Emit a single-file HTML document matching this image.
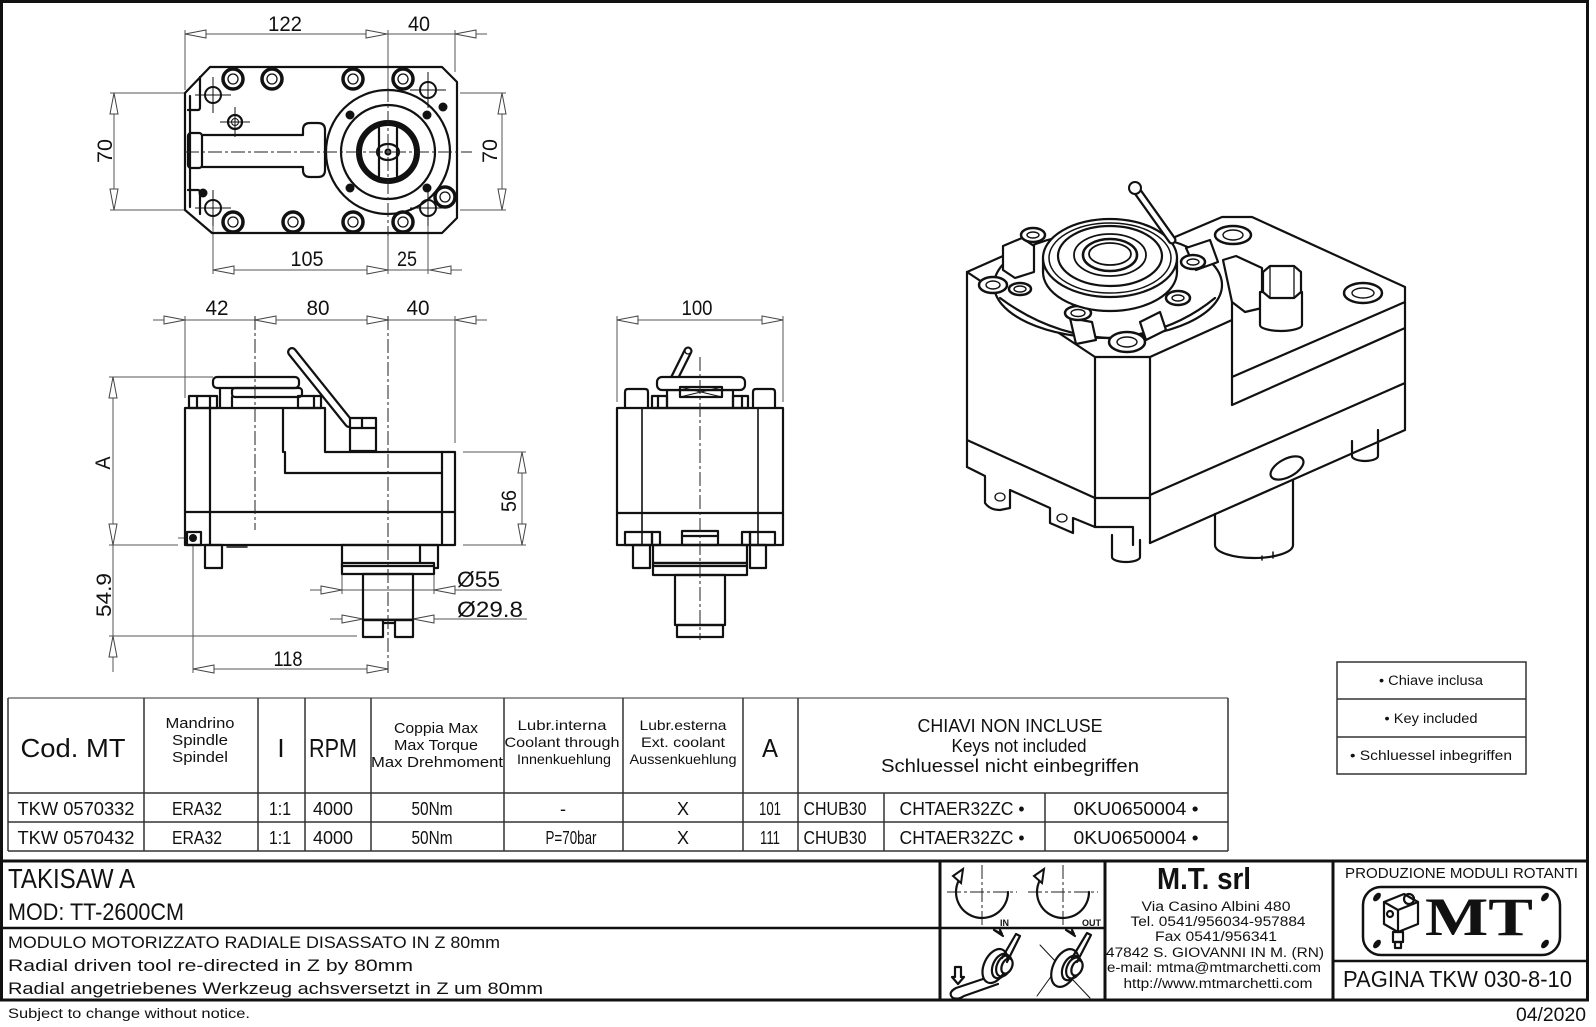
<!DOCTYPE html>
<html><head><meta charset="utf-8"><style>
html,body{margin:0;padding:0;background:#fff;}
svg{display:block;}
text{font-family:"Liberation Sans",sans-serif;fill:#111;}
.o{fill:none;stroke:#111;stroke-width:2.2;stroke-linejoin:round;stroke-linecap:round}
.ow{fill:#fff;stroke:#111;stroke-width:2.2;stroke-linejoin:round}
.d{stroke:#555;stroke-width:1;fill:none}
.ar{fill:#fff;stroke:#444;stroke-width:1}
.c{stroke:#222;stroke-width:1;stroke-dasharray:14 3 3 3;fill:none}
.tl{stroke:#333;stroke-width:1.5;fill:none}
.tk{stroke:#111;stroke-width:3;fill:none}
</style></head><body>
<svg width="1596" height="1027" viewBox="0 0 1596 1027" xmlns="http://www.w3.org/2000/svg">
<rect width="1596" height="1027" fill="#fff"/>
<!-- frame -->
<rect x="1.5" y="1.5" width="1586" height="998.5" fill="none" stroke="#111" stroke-width="3"/>

<!-- ================= TOP VIEW ================= -->
<g class="d">
<line x1="185" y1="34" x2="487" y2="34"/>
<line x1="185" y1="30" x2="185" y2="90"/>
<line x1="455" y1="30" x2="455" y2="72"/>
<line x1="388" y1="30" x2="388" y2="88"/>
<line x1="213" y1="270" x2="462" y2="270"/>
<line x1="213" y1="222" x2="213" y2="274"/>
<line x1="428" y1="222" x2="428" y2="274"/>
<line x1="388" y1="236" x2="388" y2="274"/>
<line x1="114" y1="93" x2="114" y2="210"/>
<line x1="110" y1="93" x2="185" y2="93"/>
<line x1="110" y1="210" x2="185" y2="210"/>
<line x1="502" y1="93" x2="502" y2="210"/>
<line x1="460" y1="93" x2="506" y2="93"/>
<line x1="460" y1="210" x2="506" y2="210"/>
</g>
<g class="ar">
<polygon points="185,34 206,30 206,38"/>
<polygon points="387,34 366,30 366,38"/>
<polygon points="455,34 476,30 476,38"/>
<polygon points="213,270 234,266 234,274"/>
<polygon points="388,270 367,266 367,274"/>
<polygon points="430,270 451,266 451,274"/>
<polygon points="114,93 110,114 118,114"/>
<polygon points="114,210 110,189 118,189"/>
<polygon points="502,93 498,114 506,114"/>
<polygon points="502,210 498,189 506,189"/>
</g>
<text x="285" y="31" font-size="21" text-anchor="middle" textLength="34" lengthAdjust="spacingAndGlyphs">122</text>
<text x="419" y="31" font-size="21" text-anchor="middle" textLength="22" lengthAdjust="spacingAndGlyphs">40</text>
<text x="307" y="266" font-size="21" text-anchor="middle" textLength="33" lengthAdjust="spacingAndGlyphs">105</text>
<text x="407" y="266" font-size="21" text-anchor="middle" textLength="20" lengthAdjust="spacingAndGlyphs">25</text>
<text transform="translate(112,151) rotate(-90)" font-size="21" text-anchor="middle" textLength="24" lengthAdjust="spacingAndGlyphs">70</text>
<text transform="translate(497,151) rotate(-90)" font-size="21" text-anchor="middle" textLength="24" lengthAdjust="spacingAndGlyphs">70</text>

<polygon class="o" points="210,67 442,67 457,82 457,218 442,233 212,233 185,210 185,93"/>
<g class="o" stroke-width="1.6">
<line x1="190" y1="96" x2="190" y2="207"/>
<path d="M188,110 H198 Q200,110 200,107 V77"/>
<path d="M188,190 H198 Q200,190 200,193 V214"/>
</g>
<g class="o" stroke-width="2">
<rect x="188" y="133" width="14" height="35" rx="3"/>
<path d="M202,135 H303 V130 Q303,123 310,123 H318 Q325,123 325,130 V170 Q325,177 318,177 H310 Q303,177 303,170 V167 H202"/>
</g>
<!-- flange -->
<circle class="o" cx="388" cy="152" r="62"/>
<circle class="o" cx="388" cy="152" r="47" stroke-width="2"/>
<g fill="#111">
<circle cx="350" cy="115" r="4.5"/><circle cx="427" cy="115" r="4.5"/>
<circle cx="350" cy="188" r="4.5"/><circle cx="427" cy="188" r="4.5"/>
<circle cx="443" cy="107" r="4.5"/><circle cx="203" cy="193" r="4.5"/>
</g>
<circle cx="388" cy="152" r="29" fill="none" stroke="#111" stroke-width="6"/>
<g class="o" stroke-width="1.6">
<line x1="379" y1="128" x2="379" y2="176"/>
<line x1="397" y1="128" x2="397" y2="176"/>
<ellipse cx="388" cy="152" rx="11" ry="8"/>
<circle cx="388" cy="152" r="2.5"/>
</g>
<!-- bolts -->
<g fill="none" stroke="#111">
<g stroke-width="3.5">
<circle cx="233" cy="79" r="10"/><circle cx="272" cy="79" r="10"/><circle cx="353" cy="79" r="10"/><circle cx="403" cy="79" r="10"/>
<circle cx="233" cy="222" r="10"/><circle cx="293" cy="222" r="10"/><circle cx="353" cy="222" r="10"/><circle cx="403" cy="222" r="10"/>
<circle cx="445" cy="197" r="10"/>
</g>
<g stroke-width="1.3">
<circle cx="233" cy="79" r="5"/><circle cx="272" cy="79" r="5"/><circle cx="353" cy="79" r="5"/><circle cx="403" cy="79" r="5"/>
<circle cx="233" cy="222" r="5"/><circle cx="293" cy="222" r="5"/><circle cx="353" cy="222" r="5"/><circle cx="403" cy="222" r="5"/>
<circle cx="445" cy="197" r="5"/>
</g>
<circle cx="235" cy="122" r="7" stroke-width="2.2"/><circle cx="235" cy="122" r="3.5" stroke-width="1"/>
<g stroke-width="2"><circle cx="213" cy="95" r="8"/><circle cx="213" cy="208" r="8"/><circle cx="428" cy="90" r="8"/><circle cx="428" cy="208" r="8"/></g>
<g stroke-width="1">
<path d="M195,95 H231 M213,77 V113 M195,208 H231 M213,190 V226 M410,90 H446 M428,72 V108 M410,208 H446 M428,190 V226 M220,122 H250 M235,107 V137"/>
</g>
</g>
<line class="c" x1="185" y1="152" x2="472" y2="152"/>
<line class="c" x1="388" y1="88" x2="388" y2="236"/>

<!-- ================= SIDE VIEW ================= -->
<g class="d">
<line x1="153" y1="320" x2="487" y2="320"/>
<line x1="185" y1="316" x2="185" y2="398"/>
<line x1="455" y1="316" x2="455" y2="443"/>
<line x1="113" y1="377" x2="113" y2="672"/>
<line x1="109" y1="377" x2="213" y2="377"/>
<line x1="109" y1="545" x2="178" y2="545"/>
<line x1="109" y1="636" x2="357" y2="636"/>
<line x1="522" y1="452" x2="522" y2="545"/>
<line x1="463" y1="452" x2="526" y2="452"/>
<line x1="463" y1="545" x2="526" y2="545"/>
<line x1="193" y1="669" x2="388" y2="669"/>
<line x1="193" y1="545" x2="193" y2="673"/>
<line x1="310" y1="590" x2="502" y2="590"/>
<line x1="342" y1="574" x2="342" y2="594"/>
<line x1="434" y1="574" x2="434" y2="594"/>
<line x1="330" y1="619" x2="527" y2="619"/>
<line x1="178" y1="538" x2="208" y2="538"/>
</g>
<g class="ar">
<polygon points="185,320 164,316 164,324"/>
<polygon points="255,320 276,316 276,324"/>
<polygon points="388,320 367,316 367,324"/>
<polygon points="455,320 476,316 476,324"/>
<polygon points="113,377 109,398 117,398"/>
<polygon points="113,545 109,524 117,524"/>
<polygon points="113,636 109,657 117,657"/>
<polygon points="522,452 518,473 526,473"/>
<polygon points="522,545 518,524 526,524"/>
<polygon points="193,669 214,665 214,673"/>
<polygon points="388,669 367,665 367,673"/>
<polygon points="342,590 321,586 321,594"/>
<polygon points="434,590 455,586 455,594"/>
<polygon points="363,619 342,615 342,623"/>
<polygon points="413,619 434,615 434,623"/>
</g>
<text x="217" y="315" font-size="21" text-anchor="middle" textLength="23" lengthAdjust="spacingAndGlyphs">42</text>
<text x="318" y="315" font-size="21" text-anchor="middle" textLength="23" lengthAdjust="spacingAndGlyphs">80</text>
<text x="418" y="315" font-size="21" text-anchor="middle" textLength="23" lengthAdjust="spacingAndGlyphs">40</text>
<text x="288" y="666" font-size="21" text-anchor="middle" textLength="29" lengthAdjust="spacingAndGlyphs">118</text>
<text x="457" y="587" font-size="22" textLength="43" lengthAdjust="spacingAndGlyphs">Ø55</text>
<text x="457" y="617" font-size="22" textLength="66" lengthAdjust="spacingAndGlyphs">Ø29.8</text>
<text transform="translate(110,463) rotate(-90)" font-size="21" text-anchor="middle" textLength="13" lengthAdjust="spacingAndGlyphs">A</text>
<text transform="translate(111,595) rotate(-90)" font-size="21" text-anchor="middle" textLength="44" lengthAdjust="spacingAndGlyphs">54.9</text>
<text transform="translate(516,501) rotate(-90)" font-size="21" text-anchor="middle" textLength="22" lengthAdjust="spacingAndGlyphs">56</text>

<!-- lever -->
<line x1="292" y1="352" x2="349" y2="423" stroke="#111" stroke-width="10" stroke-linecap="round"/>
<line x1="292" y1="352" x2="349" y2="423" stroke="#fff" stroke-width="5.5" stroke-linecap="round"/>
<path class="ow" d="M185,408 H325 V452 H455 V545 H185 Z"/>
<g class="o" stroke-width="2">
<path d="M283,408 V452 M210,408 V545 M185,512 H455 M442,452 V545 M285,452 V473 H442"/>
<rect x="189" y="396" width="28" height="12"/>
<path d="M197,396 V408 M210,396 V408"/>
<rect x="298" y="396" width="23" height="12"/>
<path d="M314,396 V408"/>
<rect x="232" y="388" width="70" height="9" rx="3"/>
<path d="M220,388 V408 M232,397 V408"/>
<rect x="213" y="377" width="86" height="11" rx="4"/>
<rect class="ow" x="350" y="418" width="26" height="33" stroke-width="2"/>
<path d="M350,428 H376 M362,418 V428"/>
<rect x="187" y="532" width="14" height="13"/>
<rect x="205" y="545" width="17" height="23"/>
<path d="M227,547 H247" stroke-width="1.5"/>
<rect x="342" y="545" width="96" height="23"/>
<path d="M420,545 V566"/>
<rect class="ow" x="342" y="563" width="92" height="11" stroke-width="2"/>
<path d="M342,566 H434"/>
<rect x="363" y="574" width="50" height="46"/>
<rect x="363" y="620" width="20" height="17"/>
<rect x="395" y="620" width="18" height="17"/>
<path d="M383,623 H395"/>
</g>
<circle cx="193" cy="538" r="4" fill="#111"/>
<line class="c" x1="255" y1="316" x2="255" y2="530"/>
<line class="c" x1="388" y1="316" x2="388" y2="673"/>

<!-- ================= FRONT VIEW ================= -->
<g class="d">
<line x1="617" y1="320" x2="783" y2="320"/>
<line x1="617" y1="316" x2="617" y2="402"/>
<line x1="783" y1="316" x2="783" y2="402"/>
</g>
<g class="ar">
<polygon points="617,320 638,316 638,324"/>
<polygon points="783,320 762,316 762,324"/>
</g>
<text x="697" y="315" font-size="21" text-anchor="middle" textLength="31" lengthAdjust="spacingAndGlyphs">100</text>
<line x1="688" y1="351" x2="674" y2="379" stroke="#111" stroke-width="9" stroke-linecap="round"/>
<line x1="688" y1="351" x2="674" y2="379" stroke="#fff" stroke-width="4.5" stroke-linecap="round"/>
<rect class="ow" x="617" y="408" width="166" height="137"/>
<g class="o" stroke-width="2">
<path d="M642,408 V545 M758,408 V545" stroke-width="1.6"/>
<path d="M617,513 H783"/>
<rect x="625" y="532" width="27" height="13"/><rect x="652" y="532" width="8" height="13"/>
<rect x="682" y="531" width="36" height="14"/><path d="M682,536 H718"/>
<rect x="742" y="532" width="8" height="13"/><rect x="750" y="532" width="25" height="13"/>
<path d="M625,408 V392 Q625,389 628,389 H645 Q648,389 648,392 V408"/>
<path d="M753,408 V392 Q753,389 756,389 H772 Q775,389 775,392 V408"/>
<rect x="652" y="396" width="15" height="12"/><path d="M658,396 V408"/>
<rect x="733" y="396" width="15" height="12"/><path d="M742,396 V408"/>
<rect x="667" y="390" width="66" height="18"/>
<rect class="ow" x="657" y="377" width="88" height="13" rx="5" stroke-width="2"/>
<rect x="680" y="387" width="42" height="10"/>
<path d="M680,387 L722,397 M680,397 L722,387" stroke-width="1"/>
<rect x="633" y="545" width="17" height="23"/>
<rect x="750" y="545" width="16" height="23"/>
<rect x="653" y="545" width="94" height="18"/>
<rect x="653" y="563" width="94" height="12"/>
<path d="M653,566 H747"/>
<rect x="675" y="575" width="50" height="50"/>
<rect x="677" y="625" width="46" height="12"/>
</g>
<circle cx="688" cy="351" r="3" fill="#fff" stroke="#111" stroke-width="1.3"/>
<line class="c" x1="700" y1="357" x2="700" y2="640"/>

<!-- ================= 3D VIEW ================= -->
<g fill="#fff" stroke="none">
<polygon points="967,272 1095,357 1095,527 967,467"/>
<polygon points="1095,357 1150,357 1150,543 1095,543"/>
<polygon points="1150,357 1232,320 1232,278 1175,237 1222,217 1252,217 1405,287 1405,430 1150,543"/>
<polygon points="967,272 1003,256 1175,237 1232,278 1232,320 1150,357 1095,357"/>
</g>
<g class="o" stroke-width="2">
<path d="M967,272 L1095,357 M967,272 V467 M967,440 L1095,498"/>
<path d="M967,467 L985,476 V503 Q990,510 1000,510 L1010,508 V490 L1050,508 V523 L1073,533 V518 L1095,527"/>
<path d="M1095,357 H1150 M1095,357 V527 M1150,357 V543 M1095,498 H1150 M1095,527 H1133 V545"/>
<path d="M1150,357 L1232,320 M1232,278 V405 M1232,377 L1405,302 M1232,405 L1405,328 M1150,495 L1405,383 M1150,543 L1405,430 M1405,287 V430 M1252,217 L1405,287 M1222,217 H1252 M1222,217 L1175,237 M967,272 L1003,256"/>
<path d="M1215,514 V545 A39,13 0 0 0 1293,545 V480"/>
<path d="M1273,552 V558 M1262,556 V560" stroke-width="1.5"/>
<path d="M1112,535 V557 A14,5 0 0 0 1140,557 V540"/>
<path d="M1352,441 V456 A13,5 0 0 0 1378,456 V430"/>
<ellipse cx="1287" cy="468" rx="18" ry="9" transform="rotate(-28 1287 468)"/>
<ellipse cx="1000" cy="497" rx="5" ry="4" stroke-width="1.3"/>
<ellipse cx="1062" cy="518" rx="5" ry="4" stroke-width="1.3"/>
</g>
<!-- flange plate -->
<ellipse class="ow" cx="1108" cy="285" rx="114" ry="53" stroke-width="2"/>
<path class="o" stroke-width="1.5" d="M1000,298 Q1050,335 1108,338 Q1170,335 1215,298"/>
<!-- clamp blocks -->
<g class="ow" stroke-width="1.8">
<polygon points="1003,246 1022,238 1034,246 1034,272 1015,278 1003,270"/>
<polygon points="1070,318 1092,322 1096,340 1076,344"/>
<polygon points="1140,322 1160,312 1166,330 1146,340"/>
<polygon points="1186,248 1210,240 1218,262 1196,270"/>
</g>
<!-- hex plug & nozzle holder -->
<g class="ow" stroke-width="2">
<polygon points="1223,260 1236,256 1262,268 1262,308 1245,312 1232,302"/>
<path d="M1260,292 V325 A21,6 0 0 0 1302,325 V292 Z"/>
<polygon points="1263,272 1270,266 1294,266 1301,272 1301,292 1294,298 1270,298 1263,292"/>
<path d="M1270,266 L1270,298 M1294,266 V298" fill="none" stroke-width="1.3"/>
</g>
<!-- bolts 3D -->
<g fill="#fff" stroke="#111">
<g stroke-width="2.5">
<ellipse cx="1233" cy="235" rx="18" ry="9"/>
<ellipse cx="1363" cy="293" rx="19" ry="10"/>
<ellipse cx="1127" cy="342" rx="18" ry="10"/>
<ellipse cx="1033" cy="235" rx="12" ry="7"/>
<ellipse cx="993" cy="285" rx="14" ry="8"/>
<ellipse cx="1020" cy="289" rx="11" ry="6"/>
<ellipse cx="1078" cy="313" rx="13" ry="7"/>
<ellipse cx="1193" cy="262" rx="12" ry="7"/>
<ellipse cx="1178" cy="298" rx="12" ry="7"/>
</g>
<g stroke-width="1.4" fill="none">
<ellipse cx="1233" cy="235" rx="10" ry="5"/>
<ellipse cx="1363" cy="293" rx="11" ry="5"/>
<ellipse cx="1127" cy="342" rx="10" ry="5"/>
<ellipse cx="1033" cy="235" rx="6" ry="3"/>
<ellipse cx="993" cy="285" rx="7" ry="4"/>
<ellipse cx="1020" cy="289" rx="6" ry="3"/>
<ellipse cx="1078" cy="313" rx="7" ry="3.5"/>
<ellipse cx="1193" cy="262" rx="6" ry="3"/>
<ellipse cx="1178" cy="298" rx="6" ry="3"/>
</g>
</g>
<!-- nut -->
<ellipse class="ow" cx="1110" cy="272" rx="67" ry="39" stroke-width="2.2"/>
<path d="M1043,258 V272 M1177,258 V272" class="o"/>
<ellipse class="ow" cx="1110" cy="258" rx="67" ry="39" stroke-width="2.6"/>
<g class="o">
<ellipse cx="1110" cy="258" rx="61" ry="35" stroke-width="1.5"/>
<ellipse cx="1110" cy="256" rx="52" ry="30" stroke-width="2.2"/>
<ellipse cx="1110" cy="255" rx="36" ry="21" stroke-width="1.8"/>
<ellipse cx="1110" cy="255" rx="27" ry="16" stroke-width="2.6"/>
<ellipse cx="1110" cy="254" rx="21" ry="11" stroke-width="1.8"/>
</g>
<!-- lever 3D -->
<line x1="1135" y1="188" x2="1172" y2="240" stroke="#111" stroke-width="9" stroke-linecap="round"/>
<line x1="1135" y1="188" x2="1172" y2="240" stroke="#fff" stroke-width="4.5" stroke-linecap="round"/>
<circle cx="1135" cy="188" r="6" fill="#fff" stroke="#111" stroke-width="2"/>

<!-- ================= TABLE ================= -->
<line x1="8" y1="698" x2="1228" y2="698" stroke="#777" stroke-width="1.6"/>
<g class="tl">
<line x1="8" y1="698" x2="8" y2="851"/>
<line x1="1228" y1="698" x2="1228" y2="851"/>
<line x1="8" y1="793" x2="1228" y2="793"/>
<line x1="8" y1="822" x2="1228" y2="822"/>
<line x1="8" y1="851" x2="1228" y2="851"/>
<path d="M144,698 V851 M258,698 V851 M305,698 V851 M371,698 V851 M504,698 V851 M623,698 V851 M743,698 V851 M798,698 V851 M884,793 V851 M1045,793 V851"/>
</g>
<g text-anchor="middle" lengthAdjust="spacingAndGlyphs">
<text x="73" y="757" font-size="26" textLength="105" lengthAdjust="spacingAndGlyphs">Cod. MT</text>
<text x="200" y="728" font-size="15" textLength="69" lengthAdjust="spacingAndGlyphs">Mandrino</text>
<text x="200" y="745" font-size="15" textLength="56" lengthAdjust="spacingAndGlyphs">Spindle</text>
<text x="200" y="762" font-size="15" textLength="56" lengthAdjust="spacingAndGlyphs">Spindel</text>
<text x="281" y="757" font-size="26">I</text>
<text x="333" y="757" font-size="26" textLength="48" lengthAdjust="spacingAndGlyphs">RPM</text>
<text x="436" y="733" font-size="15" textLength="84" lengthAdjust="spacingAndGlyphs">Coppia Max</text>
<text x="436" y="750" font-size="15" textLength="84" lengthAdjust="spacingAndGlyphs">Max Torque</text>
<text x="437" y="767" font-size="15" textLength="132" lengthAdjust="spacingAndGlyphs">Max Drehmoment</text>
<text x="562" y="730" font-size="14" textLength="89" lengthAdjust="spacingAndGlyphs">Lubr.interna</text>
<text x="562" y="747" font-size="14" textLength="115" lengthAdjust="spacingAndGlyphs">Coolant through</text>
<text x="564" y="764" font-size="14" textLength="94" lengthAdjust="spacingAndGlyphs">Innenkuehlung</text>
<text x="683" y="730" font-size="14" textLength="87" lengthAdjust="spacingAndGlyphs">Lubr.esterna</text>
<text x="683" y="747" font-size="14" textLength="84" lengthAdjust="spacingAndGlyphs">Ext. coolant</text>
<text x="683" y="764" font-size="14" textLength="107" lengthAdjust="spacingAndGlyphs">Aussenkuehlung</text>
<text x="770" y="757" font-size="26" textLength="16" lengthAdjust="spacingAndGlyphs">A</text>
<text x="1010" y="732" font-size="18" textLength="185" lengthAdjust="spacingAndGlyphs">CHIAVI NON INCLUSE</text>
<text x="1019" y="752" font-size="18" textLength="135" lengthAdjust="spacingAndGlyphs">Keys not included</text>
<text x="1010" y="772" font-size="18" textLength="258" lengthAdjust="spacingAndGlyphs">Schluessel nicht einbegriffen</text>

<text x="76" y="815" font-size="18" textLength="117" lengthAdjust="spacingAndGlyphs">TKW 0570332</text>
<text x="197" y="815" font-size="18" textLength="50" lengthAdjust="spacingAndGlyphs">ERA32</text>
<text x="280" y="815" font-size="18" textLength="22" lengthAdjust="spacingAndGlyphs">1:1</text>
<text x="333" y="815" font-size="18" textLength="40" lengthAdjust="spacingAndGlyphs">4000</text>
<text x="432" y="815" font-size="18" textLength="41" lengthAdjust="spacingAndGlyphs">50Nm</text>
<text x="563" y="815" font-size="18">-</text>
<text x="683" y="815" font-size="18">X</text>
<text x="770" y="815" font-size="18" textLength="22" lengthAdjust="spacingAndGlyphs">101</text>
<text x="835" y="815" font-size="18" textLength="63" lengthAdjust="spacingAndGlyphs">CHUB30</text>
<text x="962" y="815" font-size="18" textLength="125" lengthAdjust="spacingAndGlyphs">CHTAER32ZC •</text>
<text x="1136" y="815" font-size="18" textLength="125" lengthAdjust="spacingAndGlyphs">0KU0650004 •</text>

<text x="76" y="844" font-size="18" textLength="117" lengthAdjust="spacingAndGlyphs">TKW 0570432</text>
<text x="197" y="844" font-size="18" textLength="50" lengthAdjust="spacingAndGlyphs">ERA32</text>
<text x="280" y="844" font-size="18" textLength="22" lengthAdjust="spacingAndGlyphs">1:1</text>
<text x="333" y="844" font-size="18" textLength="40" lengthAdjust="spacingAndGlyphs">4000</text>
<text x="432" y="844" font-size="18" textLength="41" lengthAdjust="spacingAndGlyphs">50Nm</text>
<text x="571" y="844" font-size="18" textLength="51" lengthAdjust="spacingAndGlyphs">P=70bar</text>
<text x="683" y="844" font-size="18">X</text>
<text x="770" y="844" font-size="18" textLength="20" lengthAdjust="spacingAndGlyphs">111</text>
<text x="835" y="844" font-size="18" textLength="63" lengthAdjust="spacingAndGlyphs">CHUB30</text>
<text x="962" y="844" font-size="18" textLength="125" lengthAdjust="spacingAndGlyphs">CHTAER32ZC •</text>
<text x="1136" y="844" font-size="18" textLength="125" lengthAdjust="spacingAndGlyphs">0KU0650004 •</text>
</g>

<!-- legend -->
<g class="tl" stroke="#222">
<rect x="1337" y="662" width="189" height="112"/>
<line x1="1337" y1="699" x2="1526" y2="699"/>
<line x1="1337" y1="737" x2="1526" y2="737"/>
</g>
<text x="1431" y="685" font-size="13.5" text-anchor="middle" textLength="104" lengthAdjust="spacingAndGlyphs">• Chiave inclusa</text>
<text x="1431" y="723" font-size="13.5" text-anchor="middle" textLength="93" lengthAdjust="spacingAndGlyphs">• Key included</text>
<text x="1431" y="760" font-size="13.5" text-anchor="middle" textLength="162" lengthAdjust="spacingAndGlyphs">• Schluessel inbegriffen</text>

<!-- ================= TITLE BLOCK ================= -->
<g class="tk">
<line x1="2" y1="861" x2="1588" y2="861"/>
<line x1="2" y1="928" x2="1105" y2="928" stroke-width="2.5"/>
<line x1="940" y1="861" x2="940" y2="1000"/>
<line x1="1105" y1="861" x2="1105" y2="1000"/>
<line x1="1333" y1="861" x2="1333" y2="1000"/>
<line x1="1333" y1="961" x2="1588" y2="961" stroke-width="2.5"/>
</g>
<text x="8" y="888" font-size="28" textLength="127" lengthAdjust="spacingAndGlyphs">TAKISAW A</text>
<text x="8" y="920" font-size="24" textLength="176" lengthAdjust="spacingAndGlyphs">MOD: TT-2600CM</text>
<text x="8" y="948" font-size="17" textLength="492" lengthAdjust="spacingAndGlyphs">MODULO MOTORIZZATO RADIALE DISASSATO IN Z 80mm</text>
<text x="8" y="971" font-size="17" textLength="405" lengthAdjust="spacingAndGlyphs">Radial driven tool re-directed in Z by 80mm</text>
<text x="8" y="994" font-size="17" textLength="535" lengthAdjust="spacingAndGlyphs">Radial angetriebenes Werkzeug achsversetzt in Z um 80mm</text>
<text x="8" y="1018" font-size="13.5" textLength="242" lengthAdjust="spacingAndGlyphs">Subject to change without notice.</text>
<text x="1586" y="1021" font-size="19" text-anchor="end" textLength="70" lengthAdjust="spacingAndGlyphs">04/2020</text>

<!-- rotation icons -->
<g class="c" stroke-dasharray="12 3 3 3">
<line x1="947" y1="892" x2="1017" y2="892"/>
<line x1="982" y1="865" x2="982" y2="927"/>
<line x1="1028" y1="892" x2="1098" y2="892"/>
<line x1="1063" y1="865" x2="1063" y2="927"/>
</g>
<g class="o" stroke-width="2.2">
<path d="M958,882 A26,26 0 1 0 1008,892"/>
<path d="M1039,882 A26,26 0 1 0 1089,892"/>
</g>
<g fill="#fff" stroke="#111" stroke-width="2">
<polygon points="963,869 953,876 961,883"/>
<polygon points="1044,869 1034,876 1042,883"/>
</g>
<text x="1000" y="926" font-size="9" font-weight="bold">IN</text>
<text x="1082" y="926" font-size="9" font-weight="bold">OUT</text>
<!-- wrench icons -->
<g class="o" stroke-width="1.4">
<path d="M992,976 L956,988 Q947,993 953,998 Q958,1000 964,996 L998,984"/>
<ellipse cx="995" cy="966" rx="11" ry="18" transform="rotate(25 995 966)" fill="#fff"/>
<ellipse cx="1001" cy="966" rx="8" ry="13" transform="rotate(25 1001 966)"/>
<ellipse cx="1004" cy="966" rx="7" ry="11" transform="rotate(25 1004 966)"/>
<ellipse cx="1007" cy="966" rx="5" ry="8" transform="rotate(25 1007 966)" fill="#fff"/>
<path d="M1002,958 L1016,934 L1020,936 L1007,962"/>
<path d="M955,967 V977 H952 L958,984 L964,977 H961 V967 Z"/>
<path d="M994,930 L1002,934 L1000,930 M994,930 L1003,936"/>
<line x1="1040" y1="945" x2="1090" y2="998" stroke-width="1"/>
<line x1="1037" y1="996" x2="1070" y2="950" stroke-width="1"/>
<ellipse cx="1065" cy="968" rx="12" ry="20" transform="rotate(25 1065 968)" fill="#fff"/>
<ellipse cx="1071" cy="968" rx="8" ry="13" transform="rotate(25 1071 968)"/>
<ellipse cx="1074" cy="968" rx="7" ry="11" transform="rotate(25 1074 968)"/>
<ellipse cx="1077" cy="968" rx="5" ry="8" transform="rotate(25 1077 968)" fill="#fff"/>
<path d="M1072,958 L1087,933 L1091,935 L1077,962"/>
<path d="M1066,930 L1074,934 L1072,930 M1066,930 L1075,936"/>
</g>

<!-- M.T. srl -->
<text x="1204" y="889" font-size="31" font-weight="bold" text-anchor="middle" textLength="94" lengthAdjust="spacingAndGlyphs">M.T. srl</text>
<g font-size="13.5" text-anchor="middle">
<text x="1216" y="911" textLength="149" lengthAdjust="spacingAndGlyphs">Via Casino Albini 480</text>
<text x="1218" y="926" textLength="175" lengthAdjust="spacingAndGlyphs">Tel. 0541/956034-957884</text>
<text x="1216" y="941" textLength="122" lengthAdjust="spacingAndGlyphs">Fax 0541/956341</text>
<text x="1215" y="957" textLength="218" lengthAdjust="spacingAndGlyphs">47842 S. GIOVANNI IN M. (RN)</text>
<text x="1214" y="972" textLength="214" lengthAdjust="spacingAndGlyphs">e-mail: mtma@mtmarchetti.com</text>
<text x="1218" y="988" textLength="189" lengthAdjust="spacingAndGlyphs">http://www.mtmarchetti.com</text>
</g>

<!-- logo block -->
<text x="1345" y="878" font-size="15" textLength="233" lengthAdjust="spacingAndGlyphs">PRODUZIONE MODULI ROTANTI</text>
<rect x="1363" y="887" width="197" height="68" rx="18" fill="none" stroke="#111" stroke-width="2.5"/>
<g fill="#111">
<ellipse cx="1377" cy="897" rx="5" ry="3" transform="rotate(-50 1377 897)"/>
<ellipse cx="1545" cy="897" rx="5" ry="3" transform="rotate(-50 1545 897)"/>
<ellipse cx="1377" cy="944" rx="5" ry="3" transform="rotate(-50 1377 944)"/>
<ellipse cx="1545" cy="944" rx="5" ry="3" transform="rotate(-50 1545 944)"/>
</g>
<text x="1479" y="935" font-family="Liberation Serif,serif" font-weight="bold" font-size="54" text-anchor="middle" textLength="108" lengthAdjust="spacingAndGlyphs" style="font-family:'Liberation Serif',serif">MT</text>
<g class="o" stroke-width="1.3">
<polygon points="1384,902 1404,894 1418,902 1418,924 1398,932 1384,924" fill="#fff"/>
<path d="M1384,902 L1398,910 L1418,902 M1398,910 V932"/>
<circle cx="1409" cy="899" r="5"/>
<circle cx="1390" cy="914" r="3"/>
<rect x="1393" y="932" width="10" height="10"/>
<rect x="1395" y="942" width="6" height="6"/>
</g>
<text x="1343" y="987" font-size="23" textLength="229" lengthAdjust="spacingAndGlyphs">PAGINA TKW 030-8-10</text>
</svg>
</body></html>
